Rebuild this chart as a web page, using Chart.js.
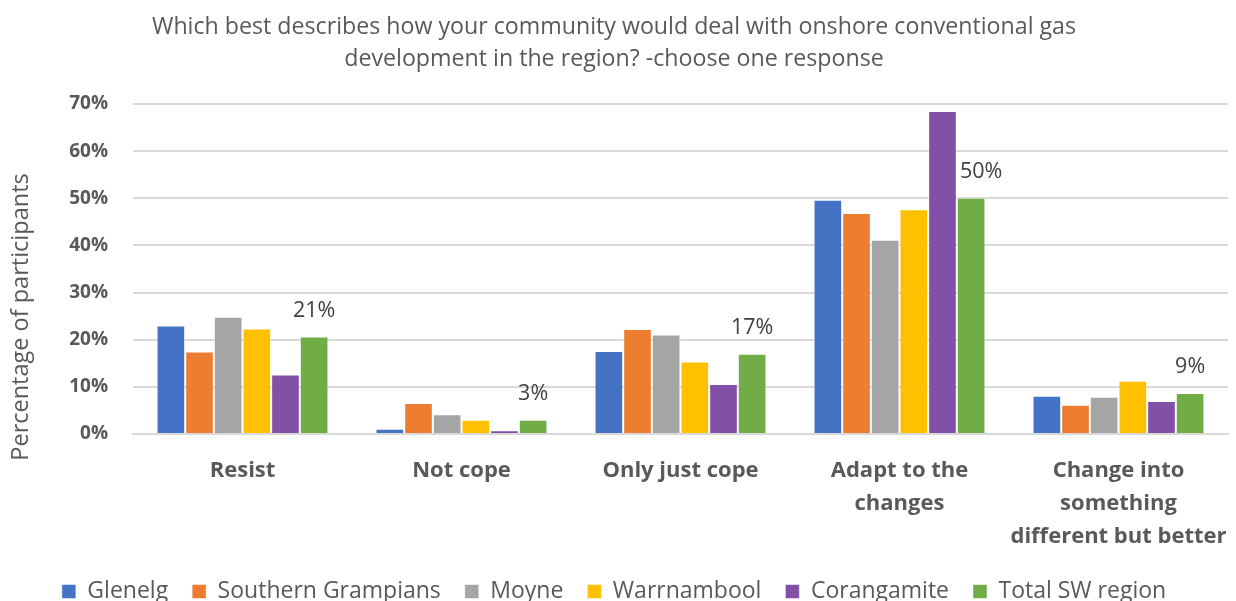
<!DOCTYPE html>
<html>
<head>
<meta charset="utf-8">
<script src="https://cdn.jsdelivr.net/npm/chart.js@4"></script>
<style>
  body { margin: 0; background: #fff; }
  #wrap { width: 1236px; height: 601px; position: relative; }
</style>
</head>
<body>
<div id="wrap"><canvas id="chart"></canvas></div>
<script>
const categories = ['Resist', 'Not cope', 'Only just cope', 'Adapt to the changes', 'Change into something different but better'];
const categoryLines = [['Resist'], ['Not cope'], ['Only just cope'], ['Adapt to the', 'changes'], ['Change into', 'something', 'different but better']];

const glenelg = [23.0, 1.1, 17.6, 49.7, 8.1];
const southernGrampians = [17.5, 6.6, 22.3, 46.9, 6.2];
const moyne = [24.9, 4.2, 21.1, 41.2, 7.9];
const warrnambool = [22.4, 3.0, 15.4, 47.7, 11.3];
const corangamite = [12.6, 0.8, 10.6, 68.5, 7.0];
const totalSW = [20.7, 3.0, 17.0, 50.1, 8.7];

const FONT = "'Open Sans', sans-serif";
const GREY = '#595959';

// y axis title drawn by hand so it can sit where the original has it
const yTitle = {
    id: 'yTitle',
    afterDraw(chart) {
        const ctx = chart.ctx;
        ctx.save();
        ctx.translate(21, 317);
        ctx.rotate(-Math.PI / 2);
        ctx.font = '23.5px ' + FONT;
        ctx.fillStyle = GREY;
        ctx.textAlign = 'center';
        ctx.textBaseline = 'middle';
        ctx.fillText('Percentage of participants', 0, 0);
        ctx.restore();
    }
};

// value labels only on the Total SW region bars
const totalLabels = {
    id: 'totalLabels',
    afterDatasetsDraw(chart) {
        const ctx = chart.ctx;
        const meta = chart.getDatasetMeta(5);
        const prev = chart.getDatasetMeta(4);
        ctx.save();
        ctx.font = '21.5px ' + FONT;
        ctx.fillStyle = '#404040';
        ctx.textAlign = 'center';
        ctx.textBaseline = 'middle';
        meta.data.forEach((bar, i) => {
            const y = bar.y - 26;
            // nudge right when the neighbouring bar would run through the label
            const x = prev.data[i].y < y ? bar.x + 10 : bar.x;
            ctx.fillText(Math.round(totalSW[i]) + '%', x, y);
        });
        ctx.restore();
    }
};

function ds(label, data, color) {
    return {
        label: label,
        data: data,
        backgroundColor: color,
        borderColor: 'rgba(255,255,255,0.5)',
        borderWidth: 1,
        categoryPercentage: 0.785,
        barPercentage: 1
    };
}

new Chart(document.getElementById('chart'), {
    type: 'bar',
    data: {
        labels: categoryLines,
        datasets: [
            ds('Glenelg', glenelg, '#4472C4'),
            ds('Southern Grampians', southernGrampians, '#ED7D31'),
            ds('Moyne', moyne, '#A5A5A5'),
            ds('Warrnambool', warrnambool, '#FFC000'),
            ds('Corangamite', corangamite, '#8350A8'),
            ds('Total SW region', totalSW, '#70AD47')
        ]
    },
    options: {
        responsive: true,
        maintainAspectRatio: false,
        animation: false,
        layout: { padding: { left: 0, right: 8, top: 0, bottom: -12 } },
        plugins: {
            title: {
                display: true,
                text: ['Which best describes how your community would deal with onshore conventional gas',
                       'development in the region? -choose one response'],
                color: GREY,
                font: { family: FONT, size: 23.2, weight: 'normal', lineHeight: 1.38 },
                padding: { top: 11, bottom: 29 }
            },
            legend: {
                position: 'bottom',
                labels: {
                    color: GREY,
                    font: { family: FONT, size: 23 },
                    boxWidth: 14,
                    boxHeight: 14,
                    padding: 24
                }
            },
            tooltip: { enabled: false }
        },
        scales: {
            x: {
                grid: { display: false },
                border: { color: '#d9d9d9', width: 2 },
                ticks: {
                    color: GREY,
                    font: { family: FONT, size: 22, weight: 'bold', lineHeight: 1.5 },
                    padding: 12,
                    maxRotation: 0,
                    autoSkip: false
                },
                afterFit(scale) {
                    scale.height = 122;
                    scale.paddingLeft = 0;
                    scale.paddingRight = 0;
                }
            },
            y: {
                min: 0,
                max: 70,
                border: { display: false },
                grid: { color: '#d9d9d9', lineWidth: 2, drawTicks: false },
                ticks: {
                    stepSize: 10,
                    color: GREY,
                    font: { family: FONT, size: 19, weight: 'bold' },
                    padding: 25,
                    callback: v => v + '%'
                },
                afterFit(scale) { scale.width = 133; }
            }
        }
    },
    plugins: [yTitle, totalLabels]
});
</script>
</body>
</html>
